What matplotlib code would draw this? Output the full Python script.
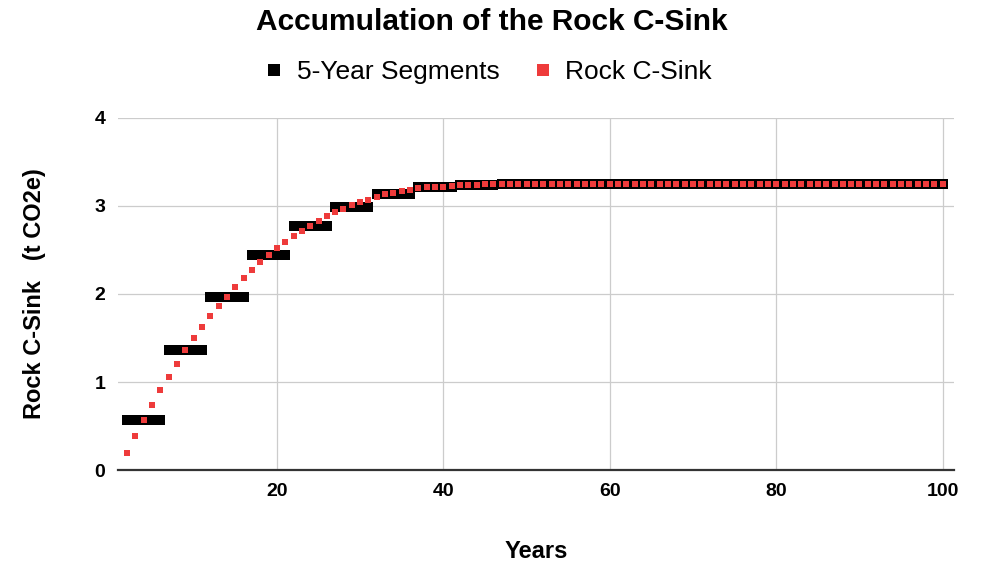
import numpy as np
import matplotlib.pyplot as plt

plt.rcParams['font.family'] = ['Liberation Sans', 'DejaVu Sans']

# yearly accumulation (years 2..100)
years = list(range(2, 101))
rock_sink = [0.20, 0.39, 0.57, 0.74, 0.91, 1.06, 1.21, 1.36, 1.50, 1.63,
             1.75, 1.86, 1.97, 2.08, 2.18, 2.27, 2.36, 2.44, 2.52, 2.59,
             2.66, 2.72, 2.77, 2.83, 2.88, 2.93, 2.97, 3.01, 3.04, 3.07,
             3.10, 3.13, 3.15, 3.17, 3.18, 3.20, 3.21, 3.22, 3.22, 3.23,
             3.235, 3.24, 3.24, 3.245, 3.245, 3.245, 3.245, 3.245, 3.245, 3.245,
             3.245, 3.245, 3.245, 3.245, 3.245, 3.245, 3.245, 3.245, 3.245, 3.245,
             3.245, 3.245, 3.245, 3.245, 3.245, 3.245, 3.245, 3.245, 3.245, 3.245,
             3.245, 3.245, 3.245, 3.245, 3.245, 3.245, 3.245, 3.245, 3.245, 3.245,
             3.245, 3.245, 3.245, 3.245, 3.245, 3.245, 3.245, 3.245, 3.245, 3.245,
             3.245, 3.245, 3.245, 3.245, 3.245, 3.245, 3.245, 3.245, 3.245]

# 5-year segment values (one per block of 5 years)
segment_values = [0.57, 1.36, 1.97, 2.44, 2.77, 2.99, 3.13, 3.22, 3.24, 3.245,
                  3.245, 3.245, 3.245, 3.245, 3.245, 3.245, 3.245, 3.245, 3.245, 3.245]
segment_years = years
segment_y = [segment_values[i // 5] for i in range(len(years))]

fig = plt.figure(figsize=(9.83, 5.61), dpi=100)
ax = fig.add_axes([0.120, 0.162, 0.850, 0.628])

ax.plot(segment_years, segment_y, linestyle='none', marker='s', markersize=6.6,
        color='black', markeredgewidth=0, label='5-Year Segments')
ax.plot(years, rock_sink, linestyle='none', marker='s', markersize=4.2,
        color='#ee3b3b', markeredgewidth=0, label='Rock C-Sink')

ax.set_xlim(0.9, 101.3)
ax.set_ylim(0, 4)
ax.set_xticks([20, 40, 60, 80, 100])
ax.set_yticks([0, 1, 2, 3, 4])
ax.grid(True, color='#cccccc', linewidth=0.9)
ax.set_axisbelow(True)
for s in ['top', 'right', 'left']:
    ax.spines[s].set_visible(False)
ax.spines['bottom'].set_color('#333333')
ax.spines['bottom'].set_linewidth(1.6)
ax.tick_params(length=0, labelsize=14, pad=9)
for lab in ax.get_xticklabels() + ax.get_yticklabels():
    lab.set_fontweight('bold')

ax.set_xlabel('Years', fontsize=17, fontweight='bold', labelpad=29)
ax.set_ylabel('Rock C-Sink   (t CO2e)', fontsize=17, fontweight='bold', labelpad=35)

fig.text(0.5, 0.961, 'Accumulation of the Rock C-Sink', fontsize=21.5,
         fontweight='bold', ha='center', va='center')
leg = fig.legend(loc='center', bbox_to_anchor=(0.497, 0.872), ncol=2, frameon=False,
                 fontsize=19, handletextpad=0.5, columnspacing=1.3,
                 handlelength=0.7)
for h in leg.legend_handles:
    h.set_markersize(8.5)

fig.savefig('out.png', dpi=100)
